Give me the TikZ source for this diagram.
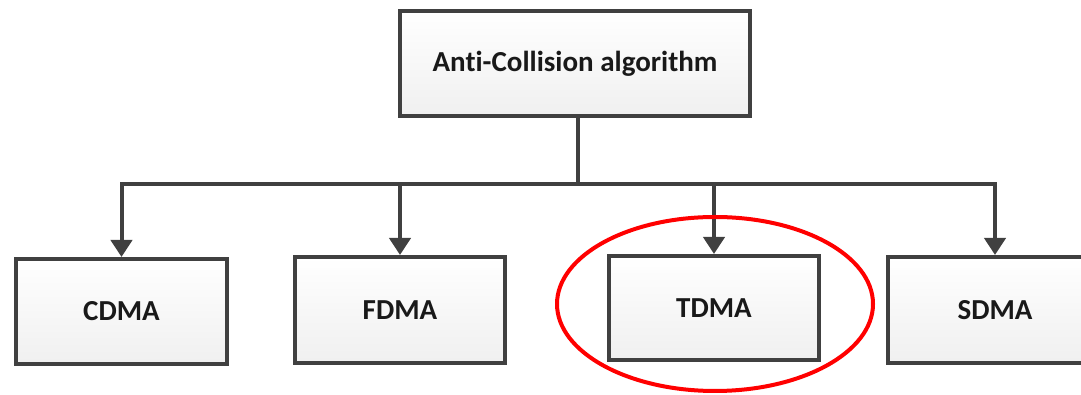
\documentclass[tikz,border=0pt]{standalone}
\usepackage{fontspec}
\setmainfont{Carlito}[Ligatures=NoCommon]
\usetikzlibrary{arrows.meta,shadows}
\begin{document}
\begin{tikzpicture}[x=1pt,y=1pt,
  box/.style={draw=black!75, line width=4pt, top color=white, bottom color=black!6,
    inner sep=0pt, font=\fontsize{29}{33}\selectfont\bfseries, text=black!90,
    drop shadow={shadow xshift=1.5pt, shadow yshift=-1.5pt, opacity=0.15}},
  link/.style={draw=black!75, line width=4pt, -{Triangle[length=17pt,width=21pt]}},
  mark ring/.style={draw=red, line width=4pt}]
  \useasboundingbox (0,0) rectangle (1081,395);
  \clip (0,0) rectangle (1081,395);
  % root of the tree
  \node[box, minimum width=350pt, minimum height=105pt] (root) at (575,331.5) {Anti-Collision algorithm};
  % the four multiple-access methods
  \node[box, minimum width=211pt, minimum height=105pt] (cdma) at (121.5,83.5) {CDMA};
  \node[box, minimum width=210pt, minimum height=106pt] (fdma) at (400,85) {FDMA};
  \node[box, minimum width=210pt, minimum height=104pt] (tdma) at (714,87) {TDMA};
  \node[box, minimum width=214pt, minimum height=106pt] (sdma) at (995,85) {SDMA};
  % branching connectors
  \coordinate (hub) at (578,211);
  \draw[line width=4pt, black!75] (root.south -| hub) -- (hub);
  \draw[link] (hub) -| (cdma.north);
  \draw[link] (hub) -| (fdma.north);
  \draw[link] (hub) -| (tdma.north);
  \draw[link] (hub) -| (sdma.north);
  % highlight around TDMA
  \draw[mark ring] (715,91) ellipse [x radius=158, y radius=87];
\end{tikzpicture}
\end{document}
